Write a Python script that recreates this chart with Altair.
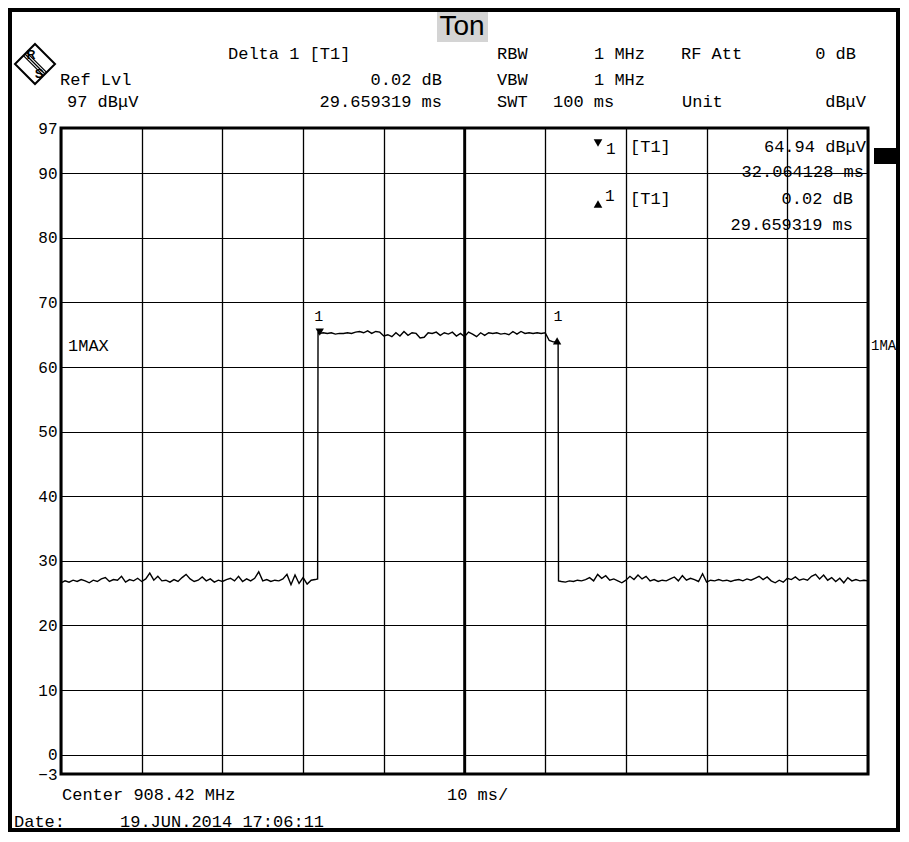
import altair as alt
import pandas as pd

# ---------------- data ----------------
STEP = 0.5  # sweep sample spacing in ms

# low level before the burst, t = 0.0 .. 31.5 ms
low1_vals = [26.6, 26.9, 26.7, 27.0, 26.8, 27.1, 26.9, 26.6, 27.0, 26.8,
             27.2, 27.4, 26.8, 27.1, 27.0, 27.6, 26.7, 27.1, 26.9, 27.3,
             26.8, 27.2, 28.1, 27.0, 27.6, 26.9, 27.0, 26.7, 27.1, 26.8,
             27.4, 27.9, 27.2, 26.8, 27.0, 27.5, 26.9, 27.2, 26.7, 27.0,
             26.8, 27.1, 27.3, 26.9, 27.6, 26.8, 27.2, 26.9, 27.3, 28.3,
             26.9, 27.1, 26.8, 27.0, 26.9, 27.2, 27.9, 26.3, 27.8, 26.5,
             27.4, 26.4, 27.0, 27.1]
# rising edge
edge1_t = [31.8, 31.85]
edge1_v = [27.2, 65.3]
# burst level, t = 32.0 .. 61.5 ms
high_vals = [65.2, 65.3, 65.2, 65.3, 65.1, 65.2, 65.2, 65.3, 65.2, 65.4,
             65.5, 65.3, 65.6, 65.2, 65.5, 65.4, 64.8, 65.0, 64.7, 65.3,
             64.8, 65.5, 64.9, 65.3, 65.2, 64.5, 64.6, 65.3, 65.2, 65.4,
             64.9, 65.3, 65.1, 65.4, 64.8, 65.2, 64.7, 65.4, 65.1, 64.7,
             65.3, 64.9, 65.3, 65.2, 65.3, 65.1, 65.2, 65.0, 65.5, 65.1,
             65.5, 65.2, 65.3, 65.2, 65.3, 65.2, 65.3, 64.1, 63.9, 63.9]
# falling edge
edge2_t = [61.6, 61.65]
edge2_v = [63.9, 26.9]
# low level after the burst, t = 62.0 .. 100.0 ms
low2_vals = [26.8, 26.7, 26.9, 26.8, 27.0, 26.9, 27.1, 27.4, 26.9, 27.9,
             27.3, 27.7, 27.0, 27.2, 26.9, 26.6, 27.0, 27.6, 27.1, 27.8,
             27.2, 27.6, 26.9, 27.1, 26.8, 27.0, 26.9, 27.2, 27.5, 26.9,
             27.7, 27.0, 27.3, 27.1, 26.8, 28.0, 26.7, 27.0, 26.9, 27.1,
             26.9, 27.0, 26.8, 27.0, 27.1, 26.9, 27.2, 27.0, 27.3, 27.6,
             27.1, 27.5, 26.9, 26.6, 27.0, 26.7, 27.3, 27.1, 27.5, 27.0,
             27.2, 27.0, 27.6, 27.9, 27.2, 27.8, 27.0, 27.4, 26.8, 27.3,
             26.6, 27.4, 26.9, 27.1, 26.9, 27.0, 26.9]

marker_t = [32.064128, 61.723447]
marker_v = [64.94, 64.96]

y_ticks = [97, 90, 80, 70, 60, 50, 40, 30, 20, 10, 0, -3]
x_grid = [0, 10, 20, 30, 40, 50, 60, 70, 80, 90, 100]

title_text = "Ton"
header_texts = ["Delta 1 [T1]", "Ref Lvl", "97 dBμV", "0.02 dB", "29.659319 ms",
                "RBW", "1 MHz", "RF Att", "0 dB",
                "VBW", "1 MHz",
                "SWT", "100 ms", "Unit", "dBμV"]
marker_texts = ["[T1]", "64.94 dBμV", "32.064128 ms",
                "[T1]", "0.02 dB", "29.659319 ms"]
side_texts = ["1MAX", "1MA"]
footer_texts = ["Center 908.42 MHz", "10 ms/", "Date:", "19.JUN.2014  17:06:11"]

# ---------------- build trace table ----------------
t_all, v_all = [], []
for i, v in enumerate(low1_vals):
    t_all.append(0.0 + i * STEP); v_all.append(v)
t_all += edge1_t; v_all += edge1_v
for i, v in enumerate(high_vals):
    t_all.append(32.0 + i * STEP); v_all.append(v)
t_all += edge2_t; v_all += edge2_v
for i, v in enumerate(low2_vals):
    t_all.append(62.0 + i * STEP); v_all.append(v)
trace = pd.DataFrame({"t": t_all, "v": v_all, "o": list(range(len(t_all)))})

# ---------------- layout (image pixel coordinates) ----------------
W, H = 807, 646          # plot area
PL, PT, PR, PB = 53, 120, 32, 58
OX, OY = 61, 128         # plot origin in image coordinates
MONO = "Liberation Mono"
one = pd.DataFrame({"a": [0]})


def txt(s, X, Y, align="left", size=17, font=MONO, color="black", weight="normal"):
    return alt.Chart(one).mark_text(
        text=s, align=align, baseline="middle", font=font, fontSize=size, color=color,
        fontWeight=weight
    ).encode(x=alt.value(X - OX), y=alt.value(Y - OY))


def box(X1, Y1, X2, Y2, **kw):
    return alt.Chart(one).mark_rect(**kw).encode(
        x=alt.value(X1 - OX), x2=alt.value(X2 - OX),
        y=alt.value(Y1 - OY), y2=alt.value(Y2 - OY))


def sym(shape, X, Y, size, **kw):
    return alt.Chart(one).mark_point(shape=shape, size=size, opacity=1, **kw).encode(
        x=alt.value(X - OX), y=alt.value(Y - OY))


xscale = alt.Scale(domain=[0, 100], nice=False, zero=False)
yscale = alt.Scale(domain=[-3, 97], nice=False, zero=False)

line = alt.Chart(trace).mark_line(color="black", strokeWidth=1.4).encode(
    x=alt.X("t:Q", scale=xscale,
            axis=alt.Axis(values=x_grid, grid=True, gridColor="black", gridWidth=1.3,
                          labels=False, ticks=False, domain=False, title=None)),
    y=alt.Y("v:Q", scale=yscale,
            axis=alt.Axis(values=y_ticks, grid=True, gridColor="black", gridWidth=1.2,
                          ticks=False, domain=False, title=None, labelFont=MONO,
                          labelFontSize=16, labelColor="black", labelPadding=4,
                          labelOverlap=False)),
    order="o:Q",
)

center = alt.Chart(pd.DataFrame({"t": [50]})).mark_rule(
    color="black", strokeWidth=2.6).encode(x=alt.X("t:Q", scale=xscale))

mk = pd.DataFrame({"t": marker_t, "v": marker_v, "lab": ["1", "1"]})
mk_down = alt.Chart(mk.iloc[[0]]).mark_point(
    shape="triangle-down", filled=True, color="black", size=70, opacity=1, yOffset=-3
).encode(x=alt.X("t:Q", scale=xscale), y=alt.Y("v:Q", scale=yscale))
mk_up = alt.Chart(mk.iloc[[1]]).mark_point(
    shape="triangle-up", filled=True, color="black", size=70, opacity=1, yOffset=6, xOffset=-2
).encode(x=alt.X("t:Q", scale=xscale), y=alt.Y("v:Q", scale=yscale))
mk_lab = alt.Chart(mk).mark_text(
    font=MONO, fontSize=15, color="black", dy=-19, dx=-1
).encode(x=alt.X("t:Q", scale=xscale), y=alt.Y("v:Q", scale=yscale), text="lab:N")

layers = [line, center, mk_down, mk_up, mk_lab]

# title box
layers.append(box(437, 10, 488, 42, color="#d4d4d4"))
layers.append(txt(title_text, 462, 27, "center", size=28, font="Liberation Sans"))

# header block
hdr_pos = [(228, 54, "left"), (60, 80, "left"), (67, 102, "left"),
           (442, 80, "right"), (442, 102, "right"),
           (497, 54, "left"), (645, 54, "right"), (681, 54, "left"), (856, 54, "right"),
           (497, 80, "left"), (645, 80, "right"),
           (497, 102, "left"), (553, 102, "left"), (682, 102, "left"), (866, 102, "right")]
for s, (X, Y, a) in zip(header_texts, hdr_pos):
    layers.append(txt(s, X, Y, a))

# marker info block
layers.append(sym("triangle-down", 598, 143, 75, filled=True, color="black"))
layers.append(txt("1", 606, 149, "left", size=16))
layers.append(sym("triangle-up", 598, 204, 75, filled=True, color="black"))
layers.append(txt("1", 605, 196, "left", size=16))
mrk_pos = [(630, 147, "left"), (866, 147, "right"), (864, 172, "right"),
           (630, 199, "left"), (853, 199, "right"), (853, 225, "right")]
for s, (X, Y, a) in zip(marker_texts, mrk_pos):
    layers.append(txt(s, X, Y, a))

# side labels and black indicator box
layers.append(txt(side_texts[0], 68, 346, "left"))
layers.append(txt(side_texts[1], 871, 346, "left", size=14))
layers.append(box(874, 148, 897, 164, color="black"))

# footer
ftr_pos = [(62, 795, "left"), (447, 795, "left"), (14, 822, "left"), (120, 822, "left")]
for s, (X, Y, a) in zip(footer_texts, ftr_pos):
    layers.append(txt(s, X, Y, a))

# R&S logo
LX, LY = 35, 64
layers.append(sym("M0,-1L1,0L0,1L-1,0Z", LX, LY, 1600, filled=True, fill="white",
                  stroke="black", strokeWidth=2))
layers.append(sym("M-0.58,-0.42L0.42,0.58M-0.5,-0.5L0.5,0.5M-0.42,-0.58L0.58,0.42",
                  LX, LY, 1600, filled=False, stroke="black", strokeWidth=1.3))
layers.append(txt("R", 31, 55, "center", size=12, font="Liberation Sans", weight="bold"))
layers.append(txt("S", 39, 74, "center", size=13, font="Liberation Sans", weight="bold"))

# page frame
layers.append(alt.Chart(one).mark_rect(fillOpacity=0, stroke="black", strokeWidth=4).encode(
    x=alt.value(-PL + 2), x2=alt.value(W + PR - 2),
    y=alt.value(-PT + 2), y2=alt.value(H + PB - 2)))

chart = alt.layer(*layers).properties(
    width=W, height=H,
    autosize=alt.AutoSizeParams(type="none"),
    padding={"left": PL, "top": PT, "right": PR, "bottom": PB},
    background="white",
).configure_view(stroke="black", strokeWidth=3)

chart.save("out.html", embed_options={"renderer": "svg", "actions": False})
